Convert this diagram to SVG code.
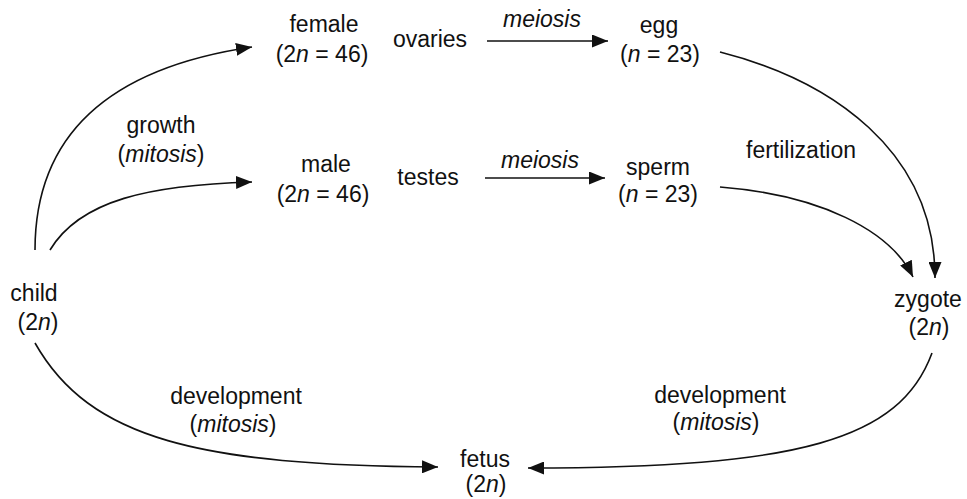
<svg xmlns="http://www.w3.org/2000/svg" width="967" height="499" viewBox="0 0 967 499">
<defs>
<style>
text{font-family:"Liberation Sans",Arial,sans-serif;font-size:23px;fill:#111;text-anchor:middle}
.i{font-style:italic}
.c{fill:none;stroke:#111;stroke-width:1.6}
</style>
<marker id="ah" markerUnits="userSpaceOnUse" markerWidth="17" markerHeight="13" refX="16" refY="6.5" orient="auto">
<path d="M0,0 L16,6.5 L0,13 Z" fill="#111"/>
</marker>
</defs>
<rect width="967" height="499" fill="#fff"/>
<g id="connectors">
<path class="c" d="M35,250 C35,120 130,65 252,47" marker-end="url(#ah)"/>
<path class="c" d="M50,250 C80,200 150,185 252,182" marker-end="url(#ah)"/>
<path class="c" d="M487,41 L608,41" marker-end="url(#ah)"/>
<path class="c" d="M485,178 L605,178" marker-end="url(#ah)"/>
<path class="c" d="M720,52 C830,80 935,150 935,278" marker-end="url(#ah)"/>
<path class="c" d="M720,187 C820,195 890,230 913,277" marker-end="url(#ah)"/>
<path class="c" d="M35,343 C90,440 200,465 438,467" marker-end="url(#ah)"/>
<path class="c" d="M932,353 C900,440 800,468 528,468" marker-end="url(#ah)"/>
</g>
<g id="labels">
<text x="161" y="133">growth</text>
<text x="161" y="162">(<tspan class="i">mitosis</tspan>)</text>
<text x="542" y="27" class="i">meiosis</text>
<text x="540" y="168" class="i">meiosis</text>
<text x="801" y="158">fertilization</text>
<text x="236" y="404">development</text>
<text x="233" y="432">(<tspan class="i">mitosis</tspan>)</text>
<text x="720" y="403">development</text>
<text x="716" y="430">(<tspan class="i">mitosis</tspan>)</text>
</g>
<g id="female"><text x="324" y="32">female</text><text x="322" y="62">(2<tspan class="i">n</tspan> = 46)</text></g>
<g id="ovaries"><text x="430" y="47">ovaries</text></g>
<g id="egg"><text x="659" y="33">egg</text><text x="660" y="62">(<tspan class="i">n</tspan> = 23)</text></g>
<g id="male"><text x="326" y="172">male</text><text x="323" y="202">(2<tspan class="i">n</tspan> = 46)</text></g>
<g id="testes"><text x="428" y="185">testes</text></g>
<g id="sperm"><text x="658" y="175">sperm</text><text x="658" y="202">(<tspan class="i">n</tspan> = 23)</text></g>
<g id="child"><text x="34" y="301">child</text><text x="38" y="330">(2<tspan class="i">n</tspan>)</text></g>
<g id="zygote"><text x="928" y="307">zygote</text><text x="929" y="335">(2<tspan class="i">n</tspan>)</text></g>
<g id="fetus"><text x="485" y="467">fetus</text><text x="486" y="492">(2<tspan class="i">n</tspan>)</text></g>
</svg>
